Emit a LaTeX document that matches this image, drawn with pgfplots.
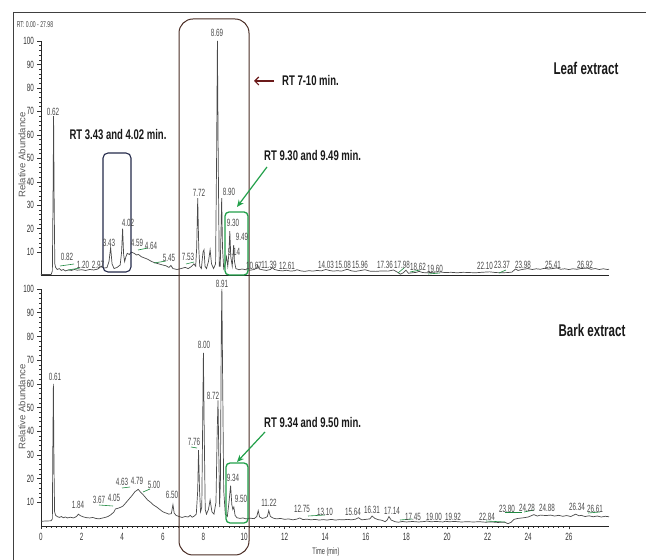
\documentclass[border=0pt]{standalone}
\usepackage{pgfplots}
\pgfplotsset{compat=1.18}
\usetikzlibrary{arrows.meta}
\usepackage{fontspec}
\setmainfont[FakeStretch=0.68]{Liberation Sans}
\newfontfamily\plainsans{Liberation Sans}
\newfontfamily\narrowsans[FakeStretch=0.6]{Liberation Sans}
\definecolor{boxbrown}{HTML}{4A2C24}
\definecolor{boxnavy}{HTML}{23294A}
\definecolor{anngreen}{HTML}{22A04A}
\definecolor{arrred}{HTML}{6B1A1A}
\definecolor{trace}{HTML}{4A4A4A}
\newcommand\tickfont{\narrowsans\fontsize{10.5}{11}\selectfont}
\pgfplotsset{chrom/.style={
  scale only axis, width=568pt, xmin=0, xmax=27.98, ymin=0, ymax=100,
  axis x line=bottom, axis y line=left,
  axis line style={-, line width=0.8pt, black!85},
  tick align=outside, ytick={10,20,...,100}, minor y tick num=4,
  major tick length=3.5pt, minor tick length=1.8pt,
  every tick/.style={black!80, line width=0.5pt},
  ticklabel style={font=\tickfont, text=black!80},
  /pgf/number format/assume math mode=true,
  clip=false}}
\begin{document}
\begin{tikzpicture}
\useasboundingbox (0,0) rectangle (646pt,560pt);
% ---------- Leaf extract ----------
\begin{axis}[chrom, height=234.6pt, at={(41pt,284.4pt)}, anchor=south west, xtick=\empty]
\addplot[trace, line width=0.7pt] coordinates {
(0,0.5) (0.5,0.5) (0.56,2) (0.6,40) (0.62,68) (0.65,30) (0.68,5) (0.72,3.5) (0.8,2.6) (0.9,3) (1.0,2.2) (1.1,2.6) (1.2,2) (1.35,2.4) (1.5,2.2) (1.65,2.6) (1.8,2.3) (2.0,2.5) (2.2,2.2) (2.4,2.6) (2.6,2.4) (2.8,2.8) (2.97,4) (3.1,3.2) (3.25,3.4) (3.35,6) (3.43,12) (3.5,5) (3.6,3) (3.75,3.5) (3.9,4.5) (3.97,10) (4.02,20) (4.07,9) (4.12,6) (4.18,8) (4.25,9.5) (4.35,9) (4.45,10) (4.59,9.5) (4.7,8.8) (4.8,9) (4.95,8) (5.1,7.5) (5.25,7) (5.45,6) (5.6,5.5) (5.8,5) (6.0,4.5) (6.15,4.2) (6.3,3.5) (6.4,4.3) (6.5,3) (6.7,2.6) (6.9,3) (7.1,3.5) (7.25,3) (7.4,3.8) (7.53,5) (7.62,4) (7.67,12) (7.72,33) (7.77,12) (7.82,4) (7.9,3) (7.98,10) (8.03,11) (8.08,4) (8.15,3) (8.25,6) (8.33,11) (8.4,5) (8.5,3) (8.6,5) (8.65,50) (8.69,100) (8.73,50) (8.78,4) (8.83,4) (8.87,20) (8.90,33) (8.94,12) (9.0,3) (9.08,5) (9.14,8) (9.2,4) (9.26,10) (9.30,19) (9.35,8) (9.42,4) (9.46,9) (9.49,13) (9.53,6) (9.6,3) (9.75,2.5) (9.9,2.8) (10.1,2.5) (10.3,2.3) (10.5,2.6) (10.62,3.2) (10.67,4.5) (10.75,2.8) (10.9,2.5) (11.1,2.2) (11.3,2.6) (11.39,3.4) (11.5,2.6) (11.7,2.2) (11.9,2.0) (12.1,2.3) (12.3,1.9) (12.5,2.1) (12.61,2.5) (12.8,2.0) (13.0,1.8) (13.2,2.1) (13.4,1.9) (13.6,2.2) (13.8,2.0) (14.03,2.6) (14.2,2.2) (14.4,1.9) (14.6,2.1) (14.8,1.9) (15.08,2.7) (15.3,2.0) (15.5,1.8) (15.7,2.1) (15.96,2.5) (16.2,1.9) (16.5,1.8) (16.8,2.0) (17.1,1.9) (17.36,2.4) (17.55,1.5) (17.7,0.6) (17.85,1.2) (17.98,2.3) (18.1,1.0) (18.3,1.2) (18.5,1.4) (18.62,1.8) (18.8,1.3) (19.0,1.2) (19.3,1.4) (19.6,1.6) (19.9,1.3) (20.2,1.4) (20.5,1.2) (20.8,1.4) (21.1,1.3) (21.4,1.2) (21.7,1.4) (22.1,1.6) (22.4,1.3) (22.7,1.2) (23.0,1.3) (23.2,1.5) (23.37,2.8) (23.5,2.2) (23.7,2.6) (23.98,3) (24.2,2.6) (24.4,2.9) (24.6,2.7) (24.8,3.1) (25.0,2.8) (25.2,3.0) (25.41,3.3) (25.6,2.7) (25.8,2.9) (26.0,2.6) (26.2,2.9) (26.4,2.7) (26.6,3.0) (26.92,3.2) (27.1,2.7) (27.3,3.0) (27.5,2.6) (27.7,2.9) (27.9,2.6) (27.98,2.7)
};
\end{axis}
% ---------- Bark extract ----------
\begin{axis}[chrom, height=237pt, at={(41pt,34pt)}, anchor=south west, xtick={0,2,...,26}, minor x tick num=7]
\addplot[trace, line width=0.7pt] coordinates {
(0,2) (0.5,2.2) (0.56,3) (0.58,30) (0.61,60) (0.64,25) (0.67,6) (0.72,4.5) (0.8,4) (0.9,3.6) (1.0,4) (1.1,3.5) (1.2,3.8) (1.3,3.4) (1.45,3.7) (1.6,3.4) (1.75,4) (1.84,5) (1.95,4.3) (2.1,3.8) (2.25,3.5) (2.4,3.4) (2.55,3.6) (2.7,3.2) (2.85,3.0) (3.0,3.3) (3.15,3.6) (3.3,4) (3.45,4.8) (3.6,6) (3.67,7.2) (3.8,7.5) (3.95,8) (4.05,8.5) (4.2,10) (4.35,11.5) (4.5,13) (4.63,14.5) (4.72,15) (4.79,15.5) (4.88,14.5) (5.0,13.5) (5.1,12.5) (5.25,11) (5.4,10) (5.55,8.8) (5.7,8) (5.85,7) (6.0,6) (6.15,5.5) (6.3,5) (6.42,5.2) (6.5,9) (6.56,5.5) (6.65,4.5) (6.8,4) (6.95,3.6) (7.1,4) (7.25,3.8) (7.35,4.5) (7.45,3.7) (7.55,4.2) (7.65,5) (7.72,15) (7.76,32) (7.81,15) (7.86,6) (7.92,8) (7.96,40) (8.00,73) (8.04,40) (8.09,7) (8.15,5) (8.25,7) (8.33,11) (8.42,6) (8.52,5) (8.62,10) (8.68,40) (8.72,53) (8.76,30) (8.8,8) (8.84,20) (8.88,80) (8.91,100) (8.95,60) (9.0,15) (9.08,5) (9.18,4) (9.26,10) (9.34,17) (9.4,9) (9.45,7) (9.5,8) (9.56,4.5) (9.65,3.5) (9.8,3.2) (9.95,3.4) (10.1,3.0) (10.3,3.3) (10.5,3.1) (10.63,4) (10.7,6.5) (10.77,3.8) (10.9,3.2) (11.05,3.5) (11.15,4) (11.22,6.5) (11.3,4) (11.45,3.3) (11.6,3.0) (11.8,3.2) (12.0,2.8) (12.2,3.0) (12.4,2.6) (12.6,2.9) (12.75,3.4) (12.9,2.7) (13.1,2.9) (13.3,2.6) (13.5,2.8) (13.7,2.5) (13.9,2.7) (14.1,2.5) (14.3,2.8) (14.5,2.5) (14.7,2.7) (14.9,2.6) (15.1,2.8) (15.3,2.6) (15.5,2.9) (15.64,3.5) (15.8,2.6) (16.0,2.8) (16.2,3.0) (16.31,4.2) (16.45,3.2) (16.6,2.7) (16.8,2.4) (16.95,1.8) (17.05,2.5) (17.14,4) (17.25,2.5) (17.45,1.8) (17.6,1.6) (17.8,1.9) (18.0,1.7) (18.3,1.9) (18.6,1.7) (18.9,1.9) (19.0,2.1) (19.2,1.8) (19.5,1.9) (19.8,1.7) (19.92,2.0) (20.1,1.8) (20.4,1.9) (20.7,1.7) (21.0,1.8) (21.3,1.7) (21.6,1.8) (21.9,1.6) (22.2,1.7) (22.5,1.5) (22.84,1.6) (23.0,1.0) (23.15,1.5) (23.3,2.8) (23.5,3.2) (23.8,3.5) (24.0,3.8) (24.28,4.8) (24.45,4.2) (24.6,4.6) (24.88,4.4) (25.1,4.6) (25.3,4.2) (25.5,4.5) (25.7,4.1) (25.9,4.4) (26.1,4.0) (26.34,5.0) (26.5,4.3) (26.61,4.5) (26.8,4.0) (27.0,4.3) (27.2,3.9) (27.4,4.2) (27.6,3.8) (27.8,4.1) (27.98,3.9)
};
\end{axis}
% ---------- annotations in pixel coordinates (y downward) ----------
\begin{scope}[x=1pt, y=-1pt, yshift=560pt,
  pk/.style={font=\narrowsans\fontsize{10.5}{11}\selectfont, text=black!72, inner sep=0pt},
  rt/.style={font=\bfseries\fontsize{14}{16}\selectfont, text=black!90, inner sep=0pt},
  ldr/.style={anngreen!85!black, line width=0.6pt}]
% frame
\draw[black!75, line width=0.9pt] (13,12) -- (646,12);
\draw[black!75, line width=0.9pt] (13,12) -- (13,560);
\node[font=\narrowsans\fontsize{8.5}{9}\selectfont, text=black!75, inner sep=0pt] at (35,25) {RT: 0.00 - 27.98};
% axis titles
\node[font=\plainsans\fontsize{9.5}{10}\selectfont, text=black!65, rotate=90, inner sep=0pt] at (22,155) {Relative Abundance};
\node[font=\plainsans\fontsize{9.5}{10}\selectfont, text=black!65, rotate=90, inner sep=0pt] at (22,407) {Relative Abundance};
\node[font=\narrowsans\fontsize{9.5}{10}\selectfont, text=black!75, inner sep=0pt] at (326,552) {Time (min)};
% boxes
\draw[boxbrown, line width=1pt, rounded corners=14pt] (179,19) rectangle (249,555);
\draw[boxnavy, line width=1.1pt, rounded corners=5pt] (103,153) rectangle (131,272);
\draw[anngreen, line width=1.3pt, rounded corners=4pt] (225,212) rectangle (248,275);
\draw[anngreen, line width=1.3pt, rounded corners=4pt] (226,463) rectangle (248,523);
% arrows
\draw[anngreen, line width=1.2pt, -{Stealth[length=7pt,width=6pt]}] (267,167) -- (237,207);
\draw[anngreen, line width=1.2pt, -{Stealth[length=7pt,width=6pt]}] (265,432) -- (237,462);
\draw[arrred, line width=1.1pt, -{Straight Barb[length=4pt,width=8pt]}] (274,81) -- (254,81);
% annotation texts
\node[rt, anchor=west] at (282,81) {RT 7-10 min.};
\node[rt] at (118,135) {RT 3.43 and 4.02 min.};
\node[rt, anchor=west] at (264,156) {RT 9.30 and 9.49 min.};
\node[rt, anchor=west] at (264,423) {RT 9.34 and 9.50 min.};
\node[rt, font=\bfseries\fontsize{17}{19}\selectfont] at (586,68) {Leaf extract};
\node[rt, font=\bfseries\fontsize{17}{19}\selectfont] at (592,330) {Bark extract};
% green leader lines (upper)
\draw[ldr] (60,266) -- (74,264);
\draw[ldr] (68,270) -- (80,268);
\draw[ldr] (138,250) -- (148,248);
\draw[ldr] (154,263) -- (166,261);
\draw[ldr] (186,264) -- (194,262);
\draw[ldr] (398,273) -- (404,268);
\draw[ldr] (410,272) -- (420,270);
\draw[ldr] (428,274) -- (440,273);
\draw[ldr] (499,273) -- (506,270);
% green leader lines (lower)
\draw[ldr] (99,505) -- (113,506);
\draw[ldr] (122,488) -- (130,487);
\draw[ldr] (143,492) -- (150,489);
\draw[ldr] (191,447) -- (197,448);
\draw[ldr] (308,516) -- (325,515);
\draw[ldr] (400,520) -- (412,519);
\draw[ldr] (486,521) -- (505,522);
\draw[ldr] (505,512) -- (522,512);
\draw[ldr] (524,512) -- (534,510);
\draw[ldr] (588,513) -- (600,512);
% peak labels (upper)
\node[pk] at (53,112) {0.62};
\node[pk] at (67,257) {0.82};
\node[pk] at (83,265) {1.20};
\node[pk] at (98,265) {2.97};
\node[pk] at (109,243) {3.43};
\node[pk] at (128,223) {4.02};
\node[pk] at (137,243) {4.59};
\node[pk] at (151,246) {4.64};
\node[pk] at (169,258) {5.45};
\node[pk] at (188,257) {7.53};
\node[pk] at (199,193) {7.72};
\node[pk] at (217,33) {8.69};
\node[pk] at (229,192) {8.90};
\node[pk] at (233,223) {9.30};
\node[pk] at (242,237) {9.49};
\node[pk] at (234,252) {9.14};
\node[pk] at (254,266) {10.67};
\node[pk] at (269,265) {11.39};
\node[pk] at (287,266) {12.61};
\node[pk] at (326,265) {14.03};
\node[pk] at (343,265) {15.08};
\node[pk] at (360,265) {15.96};
\node[pk] at (385,265) {17.36};
\node[pk] at (402,265) {17.98};
\node[pk] at (418,267) {18.62};
\node[pk] at (435,269) {19.60};
\node[pk] at (485,266) {22.10};
\node[pk] at (502,265) {23.37};
\node[pk] at (523,265) {23.98};
\node[pk] at (553,265) {25.41};
\node[pk] at (585,265) {26.92};
% peak labels (lower)
\node[pk] at (55,377) {0.61};
\node[pk] at (78,505) {1.84};
\node[pk] at (99,500) {3.67};
\node[pk] at (114,498) {4.05};
\node[pk] at (122,482) {4.63};
\node[pk] at (137,481) {4.79};
\node[pk] at (154,485) {5.00};
\node[pk] at (172,495) {6.50};
\node[pk] at (194,442) {7.76};
\node[pk] at (204,345) {8.00};
\node[pk] at (213,396) {8.72};
\node[pk] at (222,284) {8.91};
\node[pk] at (233,478) {9.34};
\node[pk] at (241,499) {9.50};
\node[pk] at (269,503) {11.22};
\node[pk] at (302,509) {12.75};
\node[pk] at (325,512) {13.10};
\node[pk] at (353,512) {15.64};
\node[pk] at (372,510) {16.31};
\node[pk] at (392,511) {17.14};
\node[pk] at (413,517) {17.45};
\node[pk] at (434,517) {19.00};
\node[pk] at (453,517) {19.92};
\node[pk] at (487,517) {22.84};
\node[pk] at (507,509) {23.80};
\node[pk] at (527,508) {24.28};
\node[pk] at (547,508) {24.88};
\node[pk] at (577,507) {26.34};
\node[pk] at (595,509) {26.61};
\end{scope}
\end{tikzpicture}
\end{document}
